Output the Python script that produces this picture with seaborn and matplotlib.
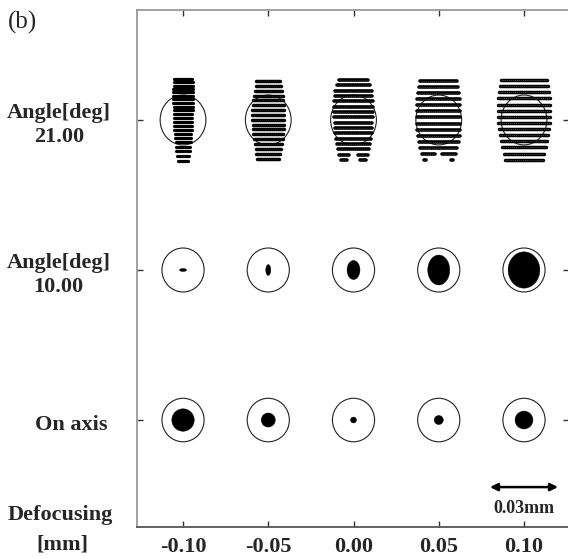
import matplotlib
matplotlib.use("Agg")
import matplotlib.pyplot as plt
from matplotlib.patches import Ellipse
from matplotlib.transforms import Affine2D
import seaborn as sns

# defocus positions (mm) and field rows
defocus = [-0.10, -0.05, 0.00, 0.05, 0.10]
defocus_labels = ["-0.10", "-0.05", "0.00", "0.05", "0.10"]
field_labels = ["Angle[deg]\n21.00", "Angle[deg]\n10.00", "On axis"]
field_rows = [2, 1, 0]

# Airy ellipse radii (um) per row: 21 deg, 10 deg, on axis
airy_rx = [10.1, 9.3, 9.3]
airy_ry = [11.0, 9.7, 9.6]

# 10 deg spot size (um, full width / full height)
spot10_w = [3.1, 2.2, 5.7, 9.7, 14.0]
spot10_h = [1.3, 4.8, 8.4, 13.2, 16.0]
# on-axis spot diameter (um)
spot0_d = [9.9, 6.2, 2.6, 4.0, 7.9]

# 21 deg spots: stripe offsets (um, up positive), half widths, central gaps
stripe_y = [
    [18.0, 16.6, 15.2, 13.7, 12.2, 10.7, 9.1, 7.5, 5.9, 4.2, 2.5, 0.8, -0.9,
     -2.6, -4.4, -6.2, -8.0, -9.9, -11.8, -13.8, -15.8, -17.9],
    [17.0, 14.9, 12.8, 10.7, 8.6, 6.5, 4.4, 2.2, 0.1, -2.0, -4.1, -6.2, -8.4,
     -10.6, -12.8, -15.0, -17.2],
    [17.6, 15.3, 12.9, 10.6, 8.2, 5.9, 3.5, 1.2, -1.2, -3.5, -5.9, -8.2, -10.6,
     -12.9, -15.3, -17.6],
    [17.2, 14.5, 11.8, 9.1, 6.5, 3.8, 1.1, -1.6, -4.3, -6.9, -9.6, -12.3, -15.0,
     -17.6],
    [17.6, 14.9, 12.2, 9.5, 6.8, 4.1, 1.4, -1.3, -4.0, -6.7, -9.4, -12.1, -14.8,
     -17.5],
]
stripe_w = [
    [4.0, 4.2, 4.2, 4.3, 4.3, 4.3, 4.3, 4.3, 4.2, 4.2, 4.1, 4.1, 4.0, 3.9, 3.8,
     3.7, 3.5, 3.3, 3.1, 2.9, 2.7, 2.4],
    [5.2, 5.6, 6.0, 6.3, 6.6, 6.8, 7.0, 7.0, 7.0, 6.9, 6.8, 6.6, 6.3, 6.0, 5.6,
     5.2, 4.8],
    [6.6, 7.4, 8.0, 8.3, 8.4, 8.4, 8.4, 8.4, 8.3, 8.2, 8.0, 7.7, 7.3, 6.8, 6.2,
     5.5],
    [8.2, 8.7, 9.1, 9.4, 9.5, 9.5, 9.5, 9.5, 9.4, 9.2, 8.8, 8.2, 7.4, 6.4],
    [10.2, 10.7, 11.0, 11.3, 11.4, 11.4, 11.4, 11.3, 11.1, 10.8, 10.3, 9.7, 9.0,
     8.2],
]
stripe_gap = [
    [0] * 22,
    [0] * 17,
    [0] * 14 + [2.0, 3.0],
    [0] * 12 + [1.5, 5.5],
    [0] * 14,
]
stripe_lw = [2.3, 2.5, 2.6, 2.6, 2.5]
stripe_texture = [0.0, 0.2, 0.25, 0.35, 0.45]

scale_um = 30  # scale bar, 0.03 mm

sns.set_style("ticks")
plt.rcParams["font.family"] = ["Liberation Serif", "DejaVu Serif"]

W, H = 568, 558
fig = plt.figure(figsize=(W / 100, H / 100), dpi=100)
ax_l, ax_r, ax_t, ax_b = 137, 569, 10, 527
ax = fig.add_axes([ax_l / W, (H - ax_b) / H, (ax_r - ax_l) / W, (ax_b - ax_t) / H])
xmin, xmax = -0.127, 0.1264
ymin, ymax = -0.713, 2.733
ax.set_xlim(xmin, xmax)
ax.set_ylim(ymin, ymax)

# um -> data units
px_per_um = 68 / scale_um
sx = px_per_um / ((ax_r - ax_l) / (xmax - xmin))
sy = px_per_um / ((ax_b - ax_t) / (ymax - ymin))


def spot_tr(x0, y0):
    return Affine2D().scale(sx, sy).translate(x0, y0) + ax.transData


for i, d in enumerate(defocus):
    # 21 deg row: striped spot
    tr = spot_tr(d, field_rows[0])
    for y, w, g in zip(stripe_y[i], stripe_w[i], stripe_gap[i]):
        segs = [(-w, w)] if g == 0 else [(-w, -g), (g, w)]
        for a, b in segs:
            ax.plot([a, b], [y, y], color="black", lw=stripe_lw[i],
                    solid_capstyle="round", transform=tr)
            if stripe_texture[i] > 0:
                ax.plot([a, b], [y, y], color="white", lw=0.5,
                        alpha=stripe_texture[i], linestyle=(0, (1.2, 1.6)),
                        transform=tr)
    ax.add_patch(Ellipse((0, 0), 2 * airy_rx[0], 2 * airy_ry[0], fill=False,
                         ec="#222222", lw=0.8, transform=tr))

    # 10 deg row
    tr = spot_tr(d, field_rows[1])
    ax.add_patch(Ellipse((0, 0), spot10_w[i], spot10_h[i], fc="black",
                         ec="black", lw=0.3, transform=tr))
    ax.add_patch(Ellipse((0, 0), 2 * airy_rx[1], 2 * airy_ry[1], fill=False,
                         ec="#222222", lw=0.8, transform=tr))

    # on axis row
    tr = spot_tr(d, field_rows[2])
    ax.add_patch(Ellipse((0, 0), spot0_d[i], spot0_d[i], fc="black",
                         ec="black", lw=0.3, transform=tr))
    ax.add_patch(Ellipse((0, 0), 2 * airy_rx[2], 2 * airy_ry[2], fill=False,
                         ec="#222222", lw=0.8, transform=tr))

# scale bar
tr = spot_tr(defocus[-1], -0.447)
ax.annotate("", xy=(scale_um / 2, 0), xytext=(-scale_um / 2, 0), xycoords=tr,
            textcoords=tr,
            arrowprops=dict(arrowstyle="<|-|>", color="black", lw=1.8,
                            mutation_scale=11, shrinkA=0, shrinkB=0))
ax.text(0, -9.3, "0.03mm", transform=tr, ha="center", va="center",
        fontsize=13, fontweight="bold")

# axes styling
ax.set_xticks(defocus)
ax.set_xticklabels(defocus_labels, fontsize=16, fontweight="bold")
ax.set_yticks(field_rows)
ax.set_yticklabels([])
ax.tick_params(direction="in", length=4, width=1, color="#333333",
               top=True, right=True, left=True, bottom=True, pad=7)
for s in ["top", "left", "right"]:
    ax.spines[s].set_color("#999999")
    ax.spines[s].set_linewidth(1.3)
ax.spines["bottom"].set_color("#555555")
ax.spines["bottom"].set_linewidth(1.3)

for lab, r in zip(field_labels, field_rows):
    ax.text(-0.181 if "\n" in lab else -0.153, r - 0.035, lab,
            transform=ax.get_yaxis_transform(), ha="center", va="center",
            multialignment="center", fontsize=16, fontweight="bold",
            linespacing=1.25)

fig.text(60 / W, 1 - 515 / H, "Defocusing", ha="center", va="center",
         fontsize=16, fontweight="bold")
fig.text(62 / W, 1 - 545 / H, "[mm]", ha="center", va="center",
         fontsize=16, fontweight="bold")
fig.text(8 / W, 1 - 22 / H, "(b)", ha="left", va="center", fontsize=18)

fig.savefig("out.png", dpi=100)
